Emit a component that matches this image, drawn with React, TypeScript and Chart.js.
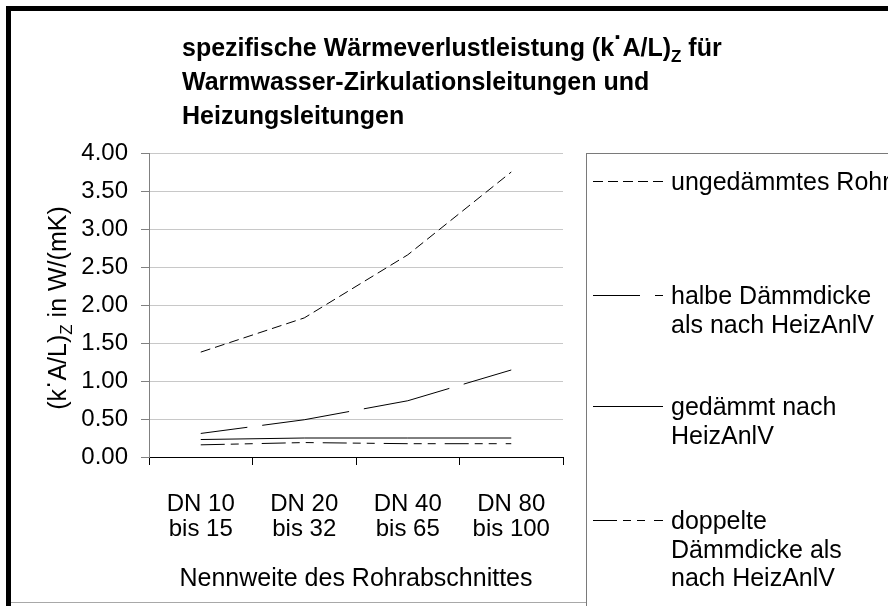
import React, { useEffect, useRef } from 'react';
import { Chart, registerables } from 'chart.js';

Chart.register(...registerables);

// ---------- data ----------
const categories: string[][] = [
  ['DN 10', 'bis 15'],
  ['DN 20', 'bis 32'],
  ['DN 40', 'bis 65'],
  ['DN 80', 'bis 100'],
];
const ungedaemmtesRohr = [1.38, 1.83, 2.66, 3.75];
const halbeDaemmdicke = [0.31, 0.49, 0.74, 1.145];
const gedaemmtNachHeizAnlV = [0.23, 0.25, 0.25, 0.25];
const doppelteDaemmdicke = [0.16, 0.19, 0.175, 0.175];

const seriesLabels = [
  'ungedämmtes Rohr',
  'halbe Dämmdicke als nach HeizAnlV',
  'gedämmt nach HeizAnlV',
  'doppelte Dämmdicke als nach HeizAnlV',
];
const legendLines: string[][] = [
  ['ungedämmtes Rohr'],
  ['halbe Dämmdicke', 'als nach HeizAnlV'],
  ['gedämmt nach', 'HeizAnlV'],
  ['doppelte', 'Dämmdicke als', 'nach HeizAnlV'],
];

const yMin = 0;
const yMax = 4;
const yStep = 0.5;

type Seg = { t: string; sub?: boolean; sup?: boolean };
const titleLines: Seg[][] = [
  [{ t: 'spezifische Wärmeverlustleistung (k' }, { t: '·', sup: true }, { t: 'A/L)' }, { t: 'Z', sub: true }, { t: ' für' }],
  [{ t: 'Warmwasser-Zirkulationsleitungen und' }],
  [{ t: 'Heizungsleitungen' }],
];
const yAxisTitle: Seg[] = [{ t: '(k' }, { t: '·', sup: true }, { t: 'A/L)' }, { t: 'Z', sub: true }, { t: ' in W/(mK)' }];
const xAxisTitle = 'Nennweite des Rohrabschnittes';

// ---------- styling ----------
const FONT = '"Liberation Sans", Arial, Helvetica, sans-serif';
const FS = 25;
const TICK_FS = 24;

function drawRich(ctx: CanvasRenderingContext2D, segs: Seg[], x: number, y: number, size: number, weight: string, align: 'left' | 'center') {
  const fontFor = (s: Seg) => `${weight} ${s.sub ? Math.round(size * 0.66) : size}px ${FONT}`;
  let total = 0;
  const widths = segs.map((s) => {
    ctx.font = fontFor(s);
    const w = ctx.measureText(s.t).width;
    total += w;
    return w;
  });
  let cx = align === 'center' ? x - total / 2 : x;
  ctx.textAlign = 'left';
  ctx.textBaseline = 'alphabetic';
  segs.forEach((s, i) => {
    ctx.font = fontFor(s);
    let dy = 0;
    if (s.sub) dy = size * 0.22;
    if (s.sup) dy = -size * 0.42;
    ctx.fillText(s.t, cx, y + dy);
    cx += widths[i];
  });
}

const decorPlugin = {
  id: 'decor',
  beforeDraw(chart: any) {
    const ctx: CanvasRenderingContext2D = chart.ctx;
    ctx.save();
    ctx.fillStyle = '#ffffff';
    ctx.fillRect(0, 0, chart.width, chart.height);
    ctx.restore();
  },
  afterDraw(chart: any) {
    const ctx: CanvasRenderingContext2D = chart.ctx;
    ctx.save();
    // outer frame
    ctx.fillStyle = '#000';
    ctx.fillRect(6, 6, 5, 600);
    ctx.fillRect(6, 6, 882, 5);
    ctx.fillStyle = '#a8a8a8';
    ctx.fillRect(11, 602, 575, 1);

    // title
    ctx.fillStyle = '#000';
    const tBase = [56, 90, 124];
    titleLines.forEach((line, i) => drawRich(ctx, line, 182, tBase[i], FS, 'bold', 'left'));

    // y axis title
    ctx.save();
    ctx.translate(66, 308);
    ctx.rotate(-Math.PI / 2);
    drawRich(ctx, yAxisTitle, 0, 0, FS, 'normal', 'center');
    ctx.restore();

    // legend box
    ctx.strokeStyle = '#7a7a7a';
    ctx.lineWidth = 1;
    ctx.setLineDash([]);
    ctx.strokeRect(586.5, 153.5, 400, 500);

    const firstLine = [183, 297, 408, 522];
    const lineStep = 28.7;
    chart.data.datasets.forEach((ds: any, i: number) => {
      const cy = firstLine[i];
      ctx.save();
      ctx.strokeStyle = ds.borderColor;
      ctx.lineWidth = 1;
      ctx.setLineDash(ds.borderDash || []);
      ctx.lineDashOffset = ds.borderDashOffset || 0;
      ctx.beginPath();
      const ly = Math.round(cy - 2) + 0.5;
      ctx.moveTo(593, ly);
      ctx.lineTo(663, ly);
      ctx.stroke();
      ctx.restore();
      ctx.fillStyle = '#000';
      ctx.font = `${FS}px ${FONT}`;
      ctx.textAlign = 'left';
      ctx.textBaseline = 'middle';
      legendLines[i].forEach((txt, j) => ctx.fillText(txt, 671, cy + j * lineStep));
    });
    ctx.restore();
  },
};

export default function App() {
  const ref = useRef<HTMLCanvasElement | null>(null);
  useEffect(() => {
    if (!ref.current) return;
    const chart = new Chart(ref.current, {
      type: 'line',
      data: {
        labels: categories as any,
        datasets: [
          {
            label: seriesLabels[0],
            data: ungedaemmtesRohr,
            borderColor: '#000',
            borderWidth: 1,
            borderDash: [10, 5],
            pointRadius: 0,
            tension: 0,
          },
          {
            label: seriesLabels[1],
            data: halbeDaemmdicke,
            borderColor: '#000',
            borderWidth: 1,
            borderDash: [88, 15],
            borderDashOffset: 41,
            pointRadius: 0,
            tension: 0,
          },
          {
            label: seriesLabels[2],
            data: gedaemmtNachHeizAnlV,
            borderColor: '#000',
            borderWidth: 1,
            pointRadius: 0,
            tension: 0,
          },
          {
            label: seriesLabels[3],
            data: doppelteDaemmdicke,
            borderColor: '#000',
            borderWidth: 1,
            borderDash: [24, 6, 8, 6, 8, 9],
            pointRadius: 0,
            tension: 0,
          },
        ] as any,
      },
      options: {
        responsive: false,
        animation: false,
        devicePixelRatio: 1,
        layout: { padding: { left: 12, top: 153, right: 325, bottom: 0 } },
        plugins: {
          legend: { display: false },
          title: { display: false },
          tooltip: { enabled: false },
        },
        scales: {
          x: {
            type: 'category',
            offset: true,
            grid: {
              offset: true,
              drawOnChartArea: false,
              drawTicks: true,
              tickLength: 8,
              color: '#000',
              tickColor: '#000',
            },
            border: { color: '#000', width: 1 },
            ticks: {
              color: '#000',
              font: { family: FONT, size: TICK_FS, lineHeight: 25 / TICK_FS },
              padding: 27,
              maxRotation: 0,
              autoSkip: false,
            },
            title: {
              display: true,
              text: xAxisTitle,
              color: '#000',
              font: { family: FONT, size: FS, lineHeight: 1.2 },
              padding: { top: 0, bottom: 12 },
            },
            afterFit: (s: any) => {
              s.height = 149;
            },
          },
          y: {
            min: yMin,
            max: yMax,
            ticks: {
              stepSize: yStep,
              color: '#000',
              font: { family: FONT, size: TICK_FS },
              padding: 13,
              callback: (v: any) => Number(v).toFixed(2),
            },
            grid: {
              color: (c: any) => (c.tick && c.tick.value === 0 ? 'rgba(0,0,0,0)' : '#c8c8c8'),
              tickColor: '#808080',
              tickLength: 8,
            },
            border: { color: '#808080', width: 1 },
            afterFit: (s: any) => {
              s.width = 137;
            },
          },
        },
      } as any,
      plugins: [decorPlugin],
    });
    return () => chart.destroy();
  }, []);
  return (
    <div style={{ position: 'absolute', left: 0, top: 0, width: 888, height: 606, overflow: 'hidden', background: '#fff' }}>
      <canvas ref={ref} width={888} height={606} style={{ display: 'block', width: 888, height: 606 }} />
    </div>
  );
}
